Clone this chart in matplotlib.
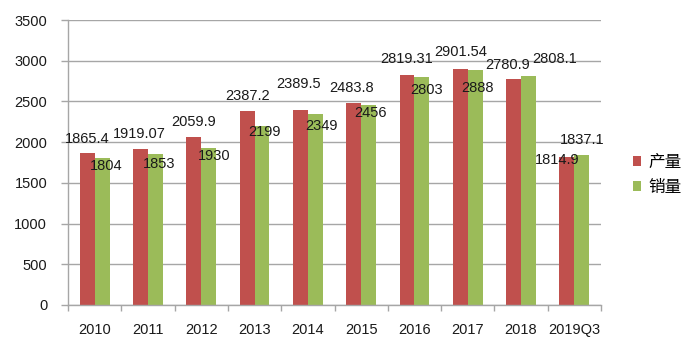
# Production and sales, 2010 - 2019Q3
import matplotlib
matplotlib.use('Agg')
import matplotlib.pyplot as plt
from matplotlib.patches import Patch
import numpy as np

plt.rcParams['font.family'] = ['Liberation Sans', 'Noto Sans CJK SC', 'DejaVu Sans']

# Data
years = ['2010', '2011', '2012', '2013', '2014', '2015', '2016', '2017', '2018', '2019Q3']
production = [1865.4, 1919.07, 2059.9, 2387.2, 2389.5, 2483.8, 2819.31, 2901.54, 2780.9, 1814.9]
sales = [1804, 1853, 1930, 2199, 2349, 2456, 2803, 2888, 2808.1, 1837.1]
series_names = ['产量', '销量']

# Label offsets (pixels) from the top of each bar, as placed in the original
prod_dx = [0, -1, 0, 0, -2, -2, 0, 0, -6, -10]
prod_dy = [14, 15, 15, 15, 26, 15, 16, 17, 14, -3]
sales_dx = [4, 4, 5, 2, 6, 2, 5, 2, 26, 0]
sales_dy = [-8, -10, -8, -6, -12, -8, -13, -18, 17, 15]

red = '#C0504D'
green = '#9BBB59'
grid_col = '#A6A6A6'

fig = plt.figure(figsize=(7, 3.52), dpi=100)
ax = fig.add_axes([68/700, 47/352, 533/700, 285/352])

x = np.arange(len(years))
w = 0.28
ax.bar(x - w/2, production, width=w, color=red, zorder=2)
ax.bar(x + w/2, sales, width=w, color=green, zorder=2)

# Data labels
for i in range(len(years)):
    ax.annotate(f'{production[i]:g}', xy=(x[i] - w/2, production[i]),
                xytext=(prod_dx[i], prod_dy[i]), textcoords='offset pixels',
                ha='center', va='center', fontsize=10.5, color='#1a1a1a', zorder=3)
    ax.annotate(f'{sales[i]:g}', xy=(x[i] + w/2, sales[i]),
                xytext=(sales_dx[i], sales_dy[i]), textcoords='offset pixels',
                ha='center', va='center', fontsize=10.5, color='#1a1a1a', zorder=3)

# Axes setup
ax.set_xlim(-0.5, len(years) - 0.5)
ax.set_ylim(0, 3500)
ax.set_yticks(np.arange(0, 3501, 500))
ax.yaxis.grid(True, color=grid_col, linewidth=1)
ax.set_axisbelow(True)
ax.set_xticks(x)
ax.set_xticklabels(years)
ax.set_xticks(np.arange(-0.5, len(years)), minor=True)
ax.tick_params(axis='x', which='major', length=0, pad=13, labelsize=10.5, labelcolor='#1a1a1a')
ax.tick_params(axis='x', which='minor', length=4, color=grid_col, width=1)
ax.tick_params(axis='y', length=5, color=grid_col, width=1, pad=10, labelsize=10.5, labelcolor='#1a1a1a')

for s in ['top', 'right']:
    ax.spines[s].set_visible(False)
for s in ['left', 'bottom']:
    ax.spines[s].set_color(grid_col)
    ax.spines[s].set_linewidth(1)

# Legend
handles = [Patch(facecolor=red), Patch(facecolor=green)]
fig.legend(handles, series_names, loc='center left', bbox_to_anchor=(618/700, 1 - 175/352),
           frameon=False, fontsize=12, handlelength=0.5, handleheight=0.5,
           handletextpad=0.4, labelspacing=0.6)

fig.savefig('out.png', dpi=100)
